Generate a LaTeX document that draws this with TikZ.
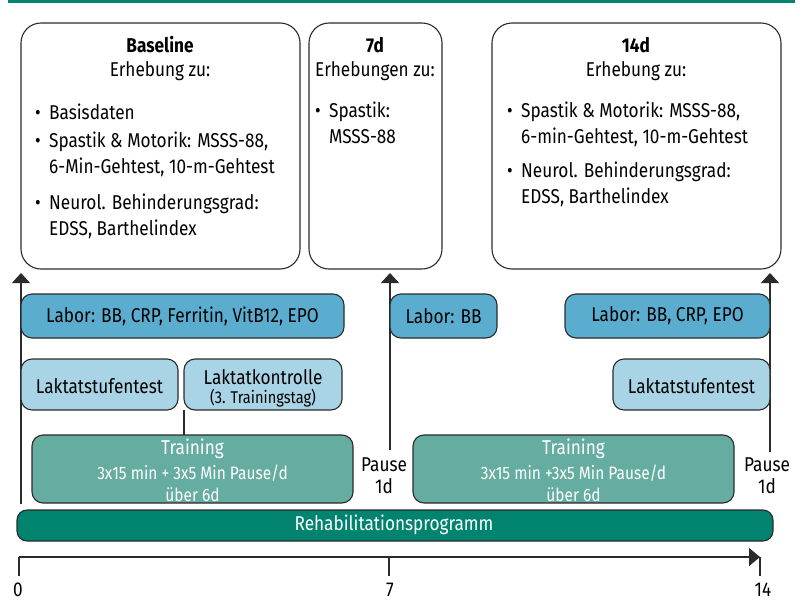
\documentclass[tikz,border=0pt]{standalone}
\usepackage{fontspec}
\setmainfont[FakeStretch=0.86]{Fira Sans}
\usetikzlibrary{arrows.meta}
\definecolor{teal1}{HTML}{00836F}
\definecolor{trainc}{HTML}{66ADA1}
\definecolor{laborc}{HTML}{5BADD0}
\definecolor{laktc}{HTML}{A9D4E6}
\definecolor{edge}{HTML}{2B2B2B}
\tikzset{
  bigbox/.style={draw=edge,line width=1.1pt,rounded corners=20pt},
  laborbox/.style={draw=edge,line width=1.1pt,rounded corners=11pt,fill=laborc},
  laktbox/.style={draw=edge,line width=1.1pt,rounded corners=11pt,fill=laktc},
  trainbox/.style={draw=edge,line width=1.1pt,rounded corners=11pt,fill=trainc},
  rehabbox/.style={draw=edge,line width=1.1pt,rounded corners=10pt,fill=teal1},
  txt/.style={inner sep=0pt,font=\fontsize{20}{24}\selectfont},
  stxt/.style={inner sep=0pt,font=\fontsize{18}{21}\selectfont},
  bl/.style={txt,anchor=west},
  up/.style={draw=edge,line width=1.1pt,-{Triangle[width=18pt,length=10pt]}},
  tick/.style={draw=edge,line width=1.1pt},
}
\newcommand{\bul}{\makebox[14pt][l]{\textbullet}}
\begin{document}
\begin{tikzpicture}[x=1pt,y=-1pt]
\useasboundingbox (0,0) rectangle (803,613);
\fill[teal1] (8,0) rectangle (795,3);
% big boxes
\draw[bigbox] (21,23) rectangle (300,269);
\draw[bigbox] (309,23) rectangle (442,269);
\draw[bigbox] (492,23) rectangle (781,269);
% baseline text
\node[txt] (b0) at (160,45) {\textbf{Baseline}};
\node[txt] (b1) at (160,71) {Erhebung zu:};
\node[bl] (b2) at (35,112) {\bul Basisdaten};
\node[bl] (b3) at (35,142) {\bul Spastik \& Motorik: MSSS-88,};
\node[bl] (b4) at (49,167) {6-Min-Gehtest, 10-m-Gehtest};
\node[bl] (b5) at (35,204) {\bul Neurol. Behinderungsgrad:};
\node[bl] (b6) at (49,229) {EDSS, Barthelindex};
% 7d
\node[txt] (s0) at (375,45) {\textbf{7d}};
\node[txt] (s1) at (375,71) {Erhebungen zu:};
\node[bl] (s2) at (315,112) {\bul Spastik:};
\node[bl] (s3) at (329,137) {MSSS-88};
% 14d
\node[txt] (f0) at (636,45) {\textbf{14d}};
\node[txt] (f1) at (636,71) {Erhebung zu:};
\node[bl] (f2) at (507,112) {\bul Spastik \& Motorik: MSSS-88,};
\node[bl] (f3) at (521,137) {6-min-Gehtest, 10-m-Gehtest};
\node[bl] (f4) at (507,172) {\bul Neurol. Behinderungsgrad:};
\node[bl] (f5) at (521,197) {EDSS, Barthelindex};
% arrows
\coordinate (a0s) at (21,504); \coordinate (a0e) at (21,273);
\coordinate (a1s) at (390,450); \coordinate (a1e) at (390,273);
\coordinate (a2s) at (770,452); \coordinate (a2e) at (770,273);
\draw[up] (a0s) -- (a0e);
\draw[up] (a1s) -- (a1e);
\draw[up] (a2s) -- (a2e);
% labor
\draw[laborbox] (21,294) rectangle (344,338);
\node[txt] (l1) at (182.5,316) {Labor: BB, CRP, Ferritin, VitB12, EPO};
\draw[laborbox] (390,294) rectangle (497,338);
\node[txt] (l2) at (443.5,316) {Labor: BB};
\draw[laborbox] (565,294) rectangle (770,338);
\node[txt] (l3) at (667.5,316) {Labor: BB, CRP, EPO};
% laktat
\draw[laktbox] (21,359) rectangle (178,410);
\node[txt] (k1) at (99.5,386) {Laktatstufentest};
\draw[laktbox] (184,359) rectangle (342,410);
\node[txt] (k2) at (263,377) {Laktatkontrolle};
\node[inner sep=0pt,font=\fontsize{17}{19}\selectfont] (k2b) at (263,398) {(3. Trainingstag)};
\draw[laktbox] (613,359) rectangle (770,410);
\node[txt] (k3) at (691.5,386) {Laktatstufentest};
\coordinate (kc) at (184,410); \coordinate (kd) at (184,435);
\draw[tick] (kc) -- (kd);
% training
\draw[trainbox] (32,435) rectangle (353,503);
\node[txt,text=white] (t1) at (192.5,449) {Training};
\node[stxt,text=white] (t2) at (192.5,473) {3x15 min + 3x5 Min Pause/d};
\node[stxt,text=white] (t3) at (192.5,495) {über 6d};
\draw[trainbox] (413,435) rectangle (734,503);
\node[txt,text=white] (u1) at (573.5,449) {Training};
\node[stxt,text=white] (u2) at (573.5,473) {3x15 min +3x5 Min Pause/d};
\node[stxt,text=white] (u3) at (573.5,495) {über 6d};
% pause
\node[txt] (p1) at (384,465) {Pause};
\node[txt] (p1b) at (384,486) {1d};
\node[txt] (p2) at (767,465) {Pause};
\node[txt] (p2b) at (767,486) {1d};
% rehab
\draw[rehabbox] (17,510) rectangle (773,541);
\node[txt,text=white] (r) at (394,525) {Rehabilitationsprogramm};
% timeline
\coordinate (z0) at (19,557); \coordinate (z14) at (760,557);
\draw[tick,-{Triangle[width=18pt,length=11pt]}] (z0) -- (z14);
\coordinate (z0b) at (19,576); \coordinate (z7) at (389,557); \coordinate (z7b) at (389,576); \coordinate (z14b) at (760,576);
\draw[tick] (z0) -- (z0b);
\draw[tick] (z7) -- (z7b);
\draw[tick] (z14) -- (z14b);
\node[txt] (n0) at (18,590) {0};
\node[txt] (n7) at (390,590) {7};
\node[txt] (n14) at (763,590) {14};
\end{tikzpicture}
\end{document}
